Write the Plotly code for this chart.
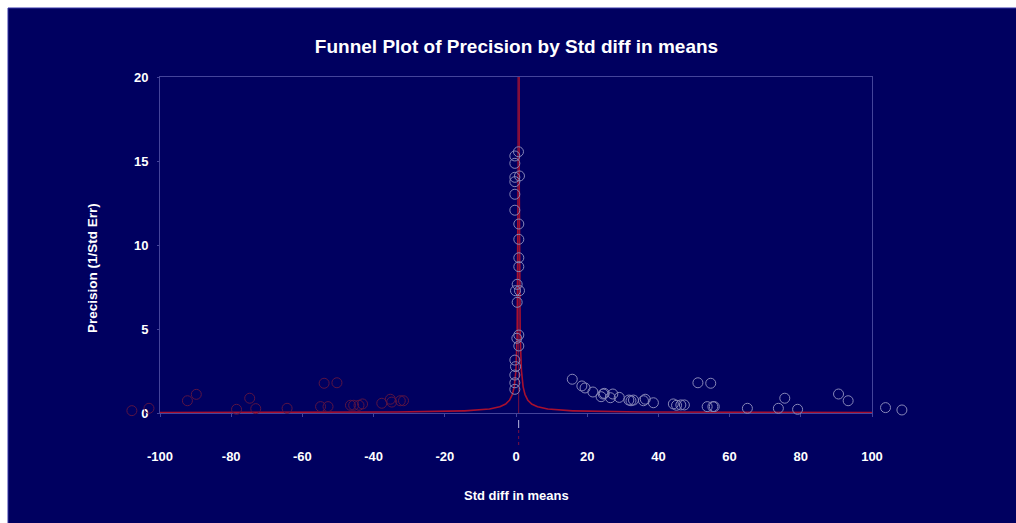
import numpy as np
import plotly.graph_objects as go

# ---- study data: effect size (Std diff in means) and precision (1/SE) ----
observed_x = [0.70, -0.33, -0.33, 0.98, -0.33, -0.33, -0.33, -0.33, 0.79, 0.79,
              0.79, 0.79, 0.33, -0.14, 0.98, 0.33, 0.79, 0.24, 0.79, -0.33,
              -0.14, -0.33, -0.33, -0.33,
              15.8, 18.5, 19.4, 21.6, 23.9, 24.5, 24.8, 26.5, 27.2, 29.0,
              31.7, 32.3, 33.0, 35.8, 36.3, 38.6, 44.2, 45.1, 46.3, 47.3,
              51.1, 53.7, 54.7, 55.3, 55.7, 65.0, 73.7, 75.5, 79.1, 90.6,
              93.3, 103.8, 108.4]
observed_y = [15.55, 15.30, 14.86, 14.11, 14.03, 13.77, 13.02, 12.07, 11.25, 10.34,
              9.24, 8.71, 7.66, 7.28, 7.28, 6.59, 4.64, 4.45, 3.99, 3.15,
              2.76, 2.26, 1.80, 1.41,
              2.01, 1.61, 1.49, 1.25, 0.97, 1.13, 1.17, 0.91, 1.13, 0.93,
              0.77, 0.73, 0.77, 0.73, 0.82, 0.61, 0.54, 0.46, 0.48, 0.48,
              1.80, 0.38, 1.77, 0.38, 0.38, 0.28, 0.28, 0.88, 0.22, 1.13,
              0.73, 0.32, 0.18]

# imputed (trim-and-fill) studies
imputed_x = [-107.9, -103.1, -92.3, -89.8, -78.5, -74.8, -73.1, -64.3, -54.9, -53.9,
             -52.8, -50.3, -46.5, -45.6, -44.1, -43.1, -37.7, -35.3, -34.9, -32.5,
             -31.6]
imputed_y = [0.14, 0.28, 0.73, 1.11, 0.22, 0.88, 0.26, 0.28, 0.38, 1.77,
             0.38, 1.80, 0.46, 0.46, 0.46, 0.54, 0.58, 0.82, 0.65, 0.73,
             0.73]

pooled_estimate = 0.75
z_crit = 1.96

x_ticks = [-100, -80, -60, -40, -20, 0, 20, 40, 60, 80, 100]
y_ticks = [0, 5, 10, 15, 20]
x_range = [-100, 100]
y_range = [0, 20]

# ---- styling ----
NAVY = "#000060"
FRAME = "#44449a"
FUNNEL_RED = "#a8102f"
FONT = "Liberation Sans, Arial, sans-serif"

W, H = 1016, 523
# pixel box of the framed plot area
AX_L, AX_R, AX_T, AX_B = 160, 872, 77, 413
# outer margins: a wider marker layer lets studies beyond +/-100 still show
ML, MR = 100, 90
MT, MB = AX_T, H - AX_B
plot_w = W - ML - MR
plot_h = H - MT - MB


def px_to_paper_x(px):
    return (px - ML) / plot_w


def px_to_paper_y(py):
    return (H - MB - py) / plot_h


# data units per pixel on the x axis, shared by the wide marker axis
units_per_px = (x_range[1] - x_range[0]) / (AX_R - AX_L)
x2_range = [x_range[0] - (AX_L - ML) * units_per_px,
            x_range[1] + (W - MR - AX_R) * units_per_px]

# pseudo 95% confidence limits of the funnel
precision = np.geomspace(0.012, 20, 600)
left_limit = pooled_estimate - z_crit / precision
right_limit = pooled_estimate + z_crit / precision

fig = go.Figure()

fig.add_trace(go.Scatter(
    x=left_limit, y=precision, mode="lines",
    line=dict(color=FUNNEL_RED, width=1.6), hoverinfo="skip"))
fig.add_trace(go.Scatter(
    x=right_limit, y=precision, mode="lines",
    line=dict(color=FUNNEL_RED, width=1.6), hoverinfo="skip"))
fig.add_trace(go.Scatter(
    x=[pooled_estimate, pooled_estimate], y=y_range, mode="lines",
    line=dict(color="#7a1040", width=1), hoverinfo="skip"))

fig.add_trace(go.Scatter(
    x=imputed_x, y=imputed_y, mode="markers", cliponaxis=False,
    xaxis="x2", yaxis="y",
    marker=dict(symbol="circle-open", size=10,
                line=dict(color="#5a1444", width=1), color="#5a1444"),
    name="Imputed"))
fig.add_trace(go.Scatter(
    x=observed_x, y=observed_y, mode="markers", cliponaxis=False,
    xaxis="x2", yaxis="y",
    marker=dict(symbol="circle-open", size=10,
                line=dict(color="#8686b8", width=1), color="#8686b8"),
    name="Observed"))

# combined-effect marker beneath the axis
pe_px = AX_L + (pooled_estimate - x_range[0]) / units_per_px
shapes = [
    dict(type="rect", xref="paper", yref="paper", layer="below",
         x0=px_to_paper_x(8), x1=px_to_paper_x(W + 10),
         y0=px_to_paper_y(H + 10), y1=px_to_paper_y(8),
         fillcolor=NAVY, line=dict(color="#3434a6", width=1)),
    dict(type="line", xref="paper", yref="paper",
         x0=px_to_paper_x(pe_px), x1=px_to_paper_x(pe_px),
         y0=px_to_paper_y(420), y1=px_to_paper_y(428),
         line=dict(color="#b8b8e0", width=1)),
    dict(type="line", xref="paper", yref="paper",
         x0=px_to_paper_x(pe_px), x1=px_to_paper_x(pe_px),
         y0=px_to_paper_y(430), y1=px_to_paper_y(447),
         line=dict(color="#7a1040", width=1, dash="dot")),
]

annotations = [
    dict(text="Precision (1/Std Err)", xref="paper", yref="paper",
         x=px_to_paper_x(92), y=px_to_paper_y(268), textangle=-90,
         showarrow=False, xanchor="center", yanchor="middle",
         font=dict(family=FONT, size=13.5, color="white", weight="bold")),
    dict(text="Std diff in means", xref="paper", yref="paper",
         x=px_to_paper_x(516), y=px_to_paper_y(495),
         showarrow=False, xanchor="center", yanchor="middle",
         font=dict(family=FONT, size=13, color="white", weight="bold")),
]

tick_font = dict(family=FONT, size=13, color="white", weight="bold")

fig.update_layout(
    width=W, height=H,
    margin=dict(l=ML, r=MR, t=MT, b=MB, pad=0),
    paper_bgcolor="white",
    plot_bgcolor="rgba(0,0,0,0)",
    showlegend=False,
    shapes=shapes,
    annotations=annotations,
    title=dict(text="Funnel Plot of Precision by Std diff in means",
               x=px_to_paper_x(516.5), xref="paper", xanchor="center",
               y=1 - 46 / H, yanchor="middle",
               font=dict(family=FONT, size=19, color="white", weight="bold")),
    xaxis=dict(domain=[px_to_paper_x(AX_L), px_to_paper_x(AX_R)],
               range=x_range, tickvals=x_ticks, ticktext=[str(v) for v in x_ticks],
               showgrid=False, zeroline=False,
               showline=True, mirror=True, linecolor=FRAME, linewidth=1,
               ticks="outside", ticklen=3, tickcolor=FRAME,
               ticklabelstandoff=28, tickfont=tick_font),
    xaxis2=dict(domain=[0, 1], range=x2_range, anchor="y", visible=False),
    yaxis=dict(range=y_range, tickvals=y_ticks, ticktext=[str(v) for v in y_ticks],
               anchor="x",
               showgrid=False, zeroline=False,
               showline=True, mirror=True, linecolor=FRAME, linewidth=1,
               ticks="outside", ticklen=2, tickcolor=FRAME,
               ticklabelstandoff=6, tickfont=tick_font),
)

fig.write_html("out.html")
